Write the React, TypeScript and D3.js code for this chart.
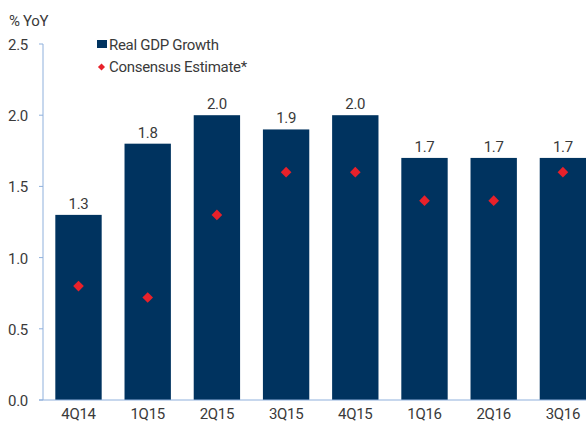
import React from "react";
import * as d3 from "d3";

const categories = ["4Q14", "1Q15", "2Q15", "3Q15", "4Q15", "1Q16", "2Q16", "3Q16"];
const gdpGrowth = [1.3, 1.8, 2.0, 1.9, 2.0, 1.7, 1.7, 1.7];
const consensus = [0.8, 0.72, 1.3, 1.6, 1.6, 1.4, 1.4, 1.6];
const yTicks = [0, 0.5, 1.0, 1.5, 2.0, 2.5];

const W = 586;
const H = 424;
const FONT = "Roboto, 'DejaVu Sans Condensed', sans-serif";
const BAR = "#00335f";
const RED = "#e8212a";
const AXIS = "#8fb0dc";
const TXT = "#3a3a3a";

export default function App() {
  const x = d3.scaleBand<string>().domain(categories).range([43, 598.4]).paddingInner(0.33).paddingOuter(0.178);
  const y = d3.scaleLinear().domain([0, 2.5]).range([400, 44]);
  const fmt = d3.format(".1f");
  const diamond = d3.symbol().type(d3.symbolDiamond2).size(72)();
  const legendDiamond = d3.symbol().type(d3.symbolDiamond2).size(32)();

  return (
    <svg width={W} height={H} style={{ position: "fixed", left: 0, top: 0 }} fontFamily={FONT} letterSpacing={-0.3}>
      <rect width={W} height={H} fill="#fff" />
      <text x={9} y={26} fontSize={15} fill={TXT}>% YoY</text>
      {categories.map((c, i) => (
        <g key={c}>
          <rect x={x(c)} y={y(gdpGrowth[i])} width={x.bandwidth()} height={y(0) - y(gdpGrowth[i])} fill={BAR} />
          <text x={x(c)! + x.bandwidth() / 2} y={y(gdpGrowth[i]) - 6} textAnchor="middle" fontSize={15} fill={TXT}>
            {fmt(gdpGrowth[i])}
          </text>
          <path d={diamond!} transform={`translate(${x(c)! + x.bandwidth() / 2},${y(consensus[i])})`} fill={RED} />
          <text x={x(c)! + x.bandwidth() / 2} y={419} textAnchor="middle" fontSize={15} fill={TXT}>{c}</text>
        </g>
      ))}
      <line x1={43} x2={43} y1={y(2.5)} y2={y(0)} stroke={AXIS} strokeWidth={1} />
      <line x1={39} x2={W} y1={y(0)} y2={y(0)} stroke={AXIS} strokeWidth={1} />
      {yTicks.map((t) => (
        <g key={t}>
          <line x1={39} x2={43} y1={y(t)} y2={y(t)} stroke={AXIS} />
          <text x={28} y={y(t) + 6} textAnchor="end" fontSize={15} fill={TXT}>{fmt(t)}</text>
        </g>
      ))}
      <rect x={97} y={40} width={10} height={8} fill={BAR} />
      <text x={109} y={50} fontSize={15} fill={TXT}>Real GDP Growth</text>
      <path d={legendDiamond!} transform="translate(101.5,67)" fill={RED} />
      <text x={109} y={72} fontSize={15} fill={TXT}>Consensus Estimate*</text>
    </svg>
  );
}
